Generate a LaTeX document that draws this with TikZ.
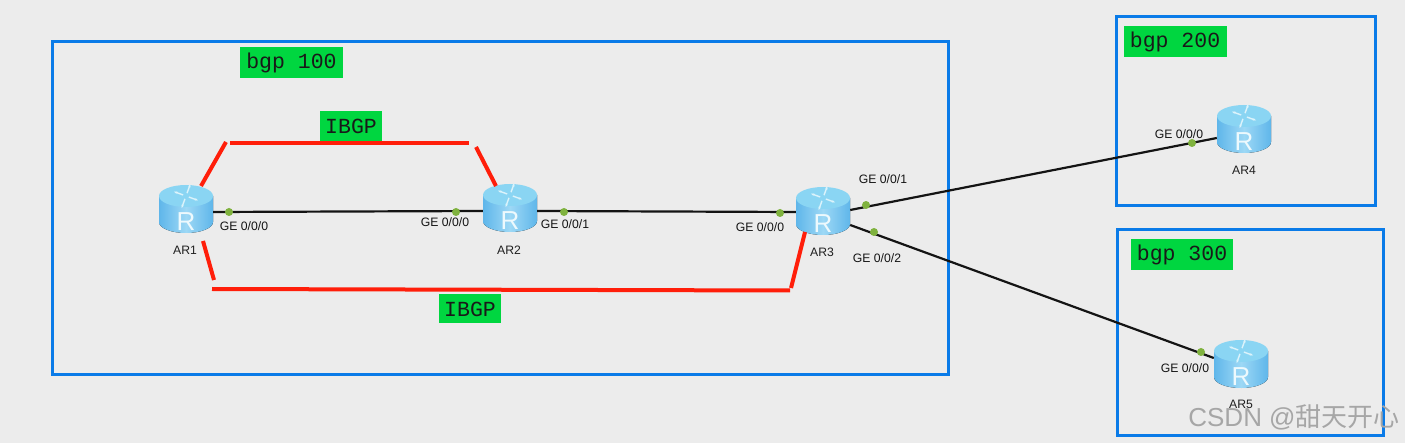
\documentclass[tikz,border=0pt]{standalone}
\usepackage{fontspec}
\setmainfont{Liberation Sans}
\setmonofont{Liberation Mono}
\newfontfamily\cjkwm{Noto Sans CJK SC}
\usetikzlibrary{arrows.meta}
\definecolor{bgc}{HTML}{ECECEC}
\definecolor{bluebox}{HTML}{0A7BE8}
\definecolor{tagg}{HTML}{00D640}
\definecolor{dotg}{HTML}{7FB23E}
\definecolor{redl}{HTML}{FF1E0A}
\definecolor{rbody}{HTML}{7CCBF2}
\definecolor{rbodyd}{HTML}{5FB6EA}
\definecolor{rtop}{HTML}{8AD5F3}
\tikzset{
  x=1pt,y=-1pt,
  areabox/.style={draw=bluebox,line width=3pt,fill=none},
  tag/.style={fill=tagg,font=\ttfamily\fontsize{21.5}{24}\selectfont,text=black!90,inner sep=0pt,minimum height=31pt,anchor=center},
  portlbl/.style={font=\fontsize{12.2}{14}\selectfont,text=black!92,inner sep=0pt},
  namelbl/.style={font=\fontsize{12.2}{14}\selectfont,text=black!88,inner sep=0pt},
  link/.style={draw=black!92,line width=2.2pt},
  ibgp/.style={draw=redl,line width=4pt},
  portdot/.style={circle,fill=dotg,inner sep=0pt,minimum size=8pt},
  router/.pic={
    \fill[left color=rbodyd,right color=rbodyd,middle color=rbody!75!white]
      (-27,-13) -- (-27,13) arc[x radius=27,y radius=11,start angle=180,end angle=0] -- (27,-13) -- cycle;
    \fill[rtop] (0,-13) ellipse[x radius=27,y radius=11];
    \foreach \a in {20,110,200,290}
      \draw[white!70!rtop,line width=1.4pt,-{Stealth[length=3.5pt]}] ([shift={(\a:3)}]0,-13) -- ([shift={(\a:13)}]0,-13);
    \node[text=white!85!rtop,font=\fontsize{26}{26}\selectfont,inner sep=0pt] at (0,13) {R};
    \node[minimum width=54pt,minimum height=48pt,inner sep=0pt] (box) at (0,0) {};
  }
}
\begin{document}
\begin{tikzpicture}
\useasboundingbox (0,0) rectangle (1405,443);
\fill[bgc] (0,0) rectangle (1405,443);

\draw[areabox] (52,42) rectangle (948,374);
\draw[areabox] (1116,17) rectangle (1375,206);
\draw[areabox] (1117,230) rectangle (1383,435);

\node[tag,minimum width=103pt] (t100) at (291.5,62.5) {bgp 100};
\node[tag,minimum width=103pt] (t200) at (1175,42) {bgp 200};
\node[tag,minimum width=102pt] (t300) at (1182,255) {bgp 300};
\node[tag,minimum width=62pt,minimum height=30pt] (ti1) at (351,126) {IBGP};
\node[tag,minimum width=62pt,minimum height=29pt] (ti2) at (470,309) {IBGP};

\pic (ar1) at (186,209) {router};
\pic (ar2) at (510,208) {router};
\pic (ar3) at (823,211) {router};
\pic (ar4) at (1244,129) {router};
\pic (ar5) at (1241,364) {router};

\draw[link] ([yshift=-3pt]ar1box.east) -- ([yshift=-3pt]ar2box.west);
\draw[link] ([yshift=-3pt]ar2box.east) -- ([yshift=-1pt]ar3box.west);
\draw[link] ([yshift=1pt]ar3box.east) -- ([yshift=-9pt]ar4box.west);
\draw[link] ([yshift=-14pt]ar3box.east) -- ([yshift=6pt]ar5box.west);

\node[portdot] (d1) at (229,212) {};
\node[portdot] (d2) at (456,212) {};
\node[portdot] (d3) at (564,212) {};
\node[portdot] (d4) at (780,213) {};
\node[portdot] (d5) at (866,205) {};
\node[portdot] (d6) at (874,232) {};
\node[portdot] (d7) at (1192,143) {};
\node[portdot] (d8) at (1201,352) {};

\coordinate (a1) at (201,186);
\coordinate (a2) at (226,142);
\coordinate (a3) at (230,143);
\coordinate (a4) at (469,143);
\coordinate (a5) at (476,147);
\coordinate (a6) at (496,186);
\coordinate (b1) at (203,241);
\coordinate (b2) at (214,280);
\coordinate (b3) at (212,289);
\coordinate (b4) at (790,290.5);
\coordinate (b5) at (791,288);
\coordinate (b6) at (805,232);
\draw[ibgp] (a1) -- (a2);
\draw[ibgp] (a3) -- (a4);
\draw[ibgp] (a5) -- (a6);
\draw[ibgp] (b1) -- (b2);
\draw[ibgp] (b3) -- (b4);
\draw[ibgp] (b5) -- (b6);

\node[portlbl] (l1) at (244,226) {GE 0/0/0};
\node[portlbl] (l2) at (445,222) {GE 0/0/0};
\node[portlbl] (l3) at (565,224) {GE 0/0/1};
\node[portlbl] (l4) at (760,227) {GE 0/0/0};
\node[portlbl] (l5) at (883,179) {GE 0/0/1};
\node[portlbl] (l6) at (877,258) {GE 0/0/2};
\node[portlbl] (l7) at (1179,134) {GE 0/0/0};
\node[portlbl] (l8) at (1185,368) {GE 0/0/0};

\node[namelbl] (n1) at (185,250) {AR1};
\node[namelbl] (n2) at (509,250) {AR2};
\node[namelbl] (n3) at (822,252) {AR3};
\node[namelbl] (n4) at (1244,170) {AR4};
\node[namelbl] (n5) at (1241,404) {AR5};

\node[inner sep=0pt,text=black!35,font=\fontsize{26}{28}\selectfont] (wm) at (1294,417) {CSDN @{\cjkwm 甜天开心}};
\end{tikzpicture}
\end{document}
